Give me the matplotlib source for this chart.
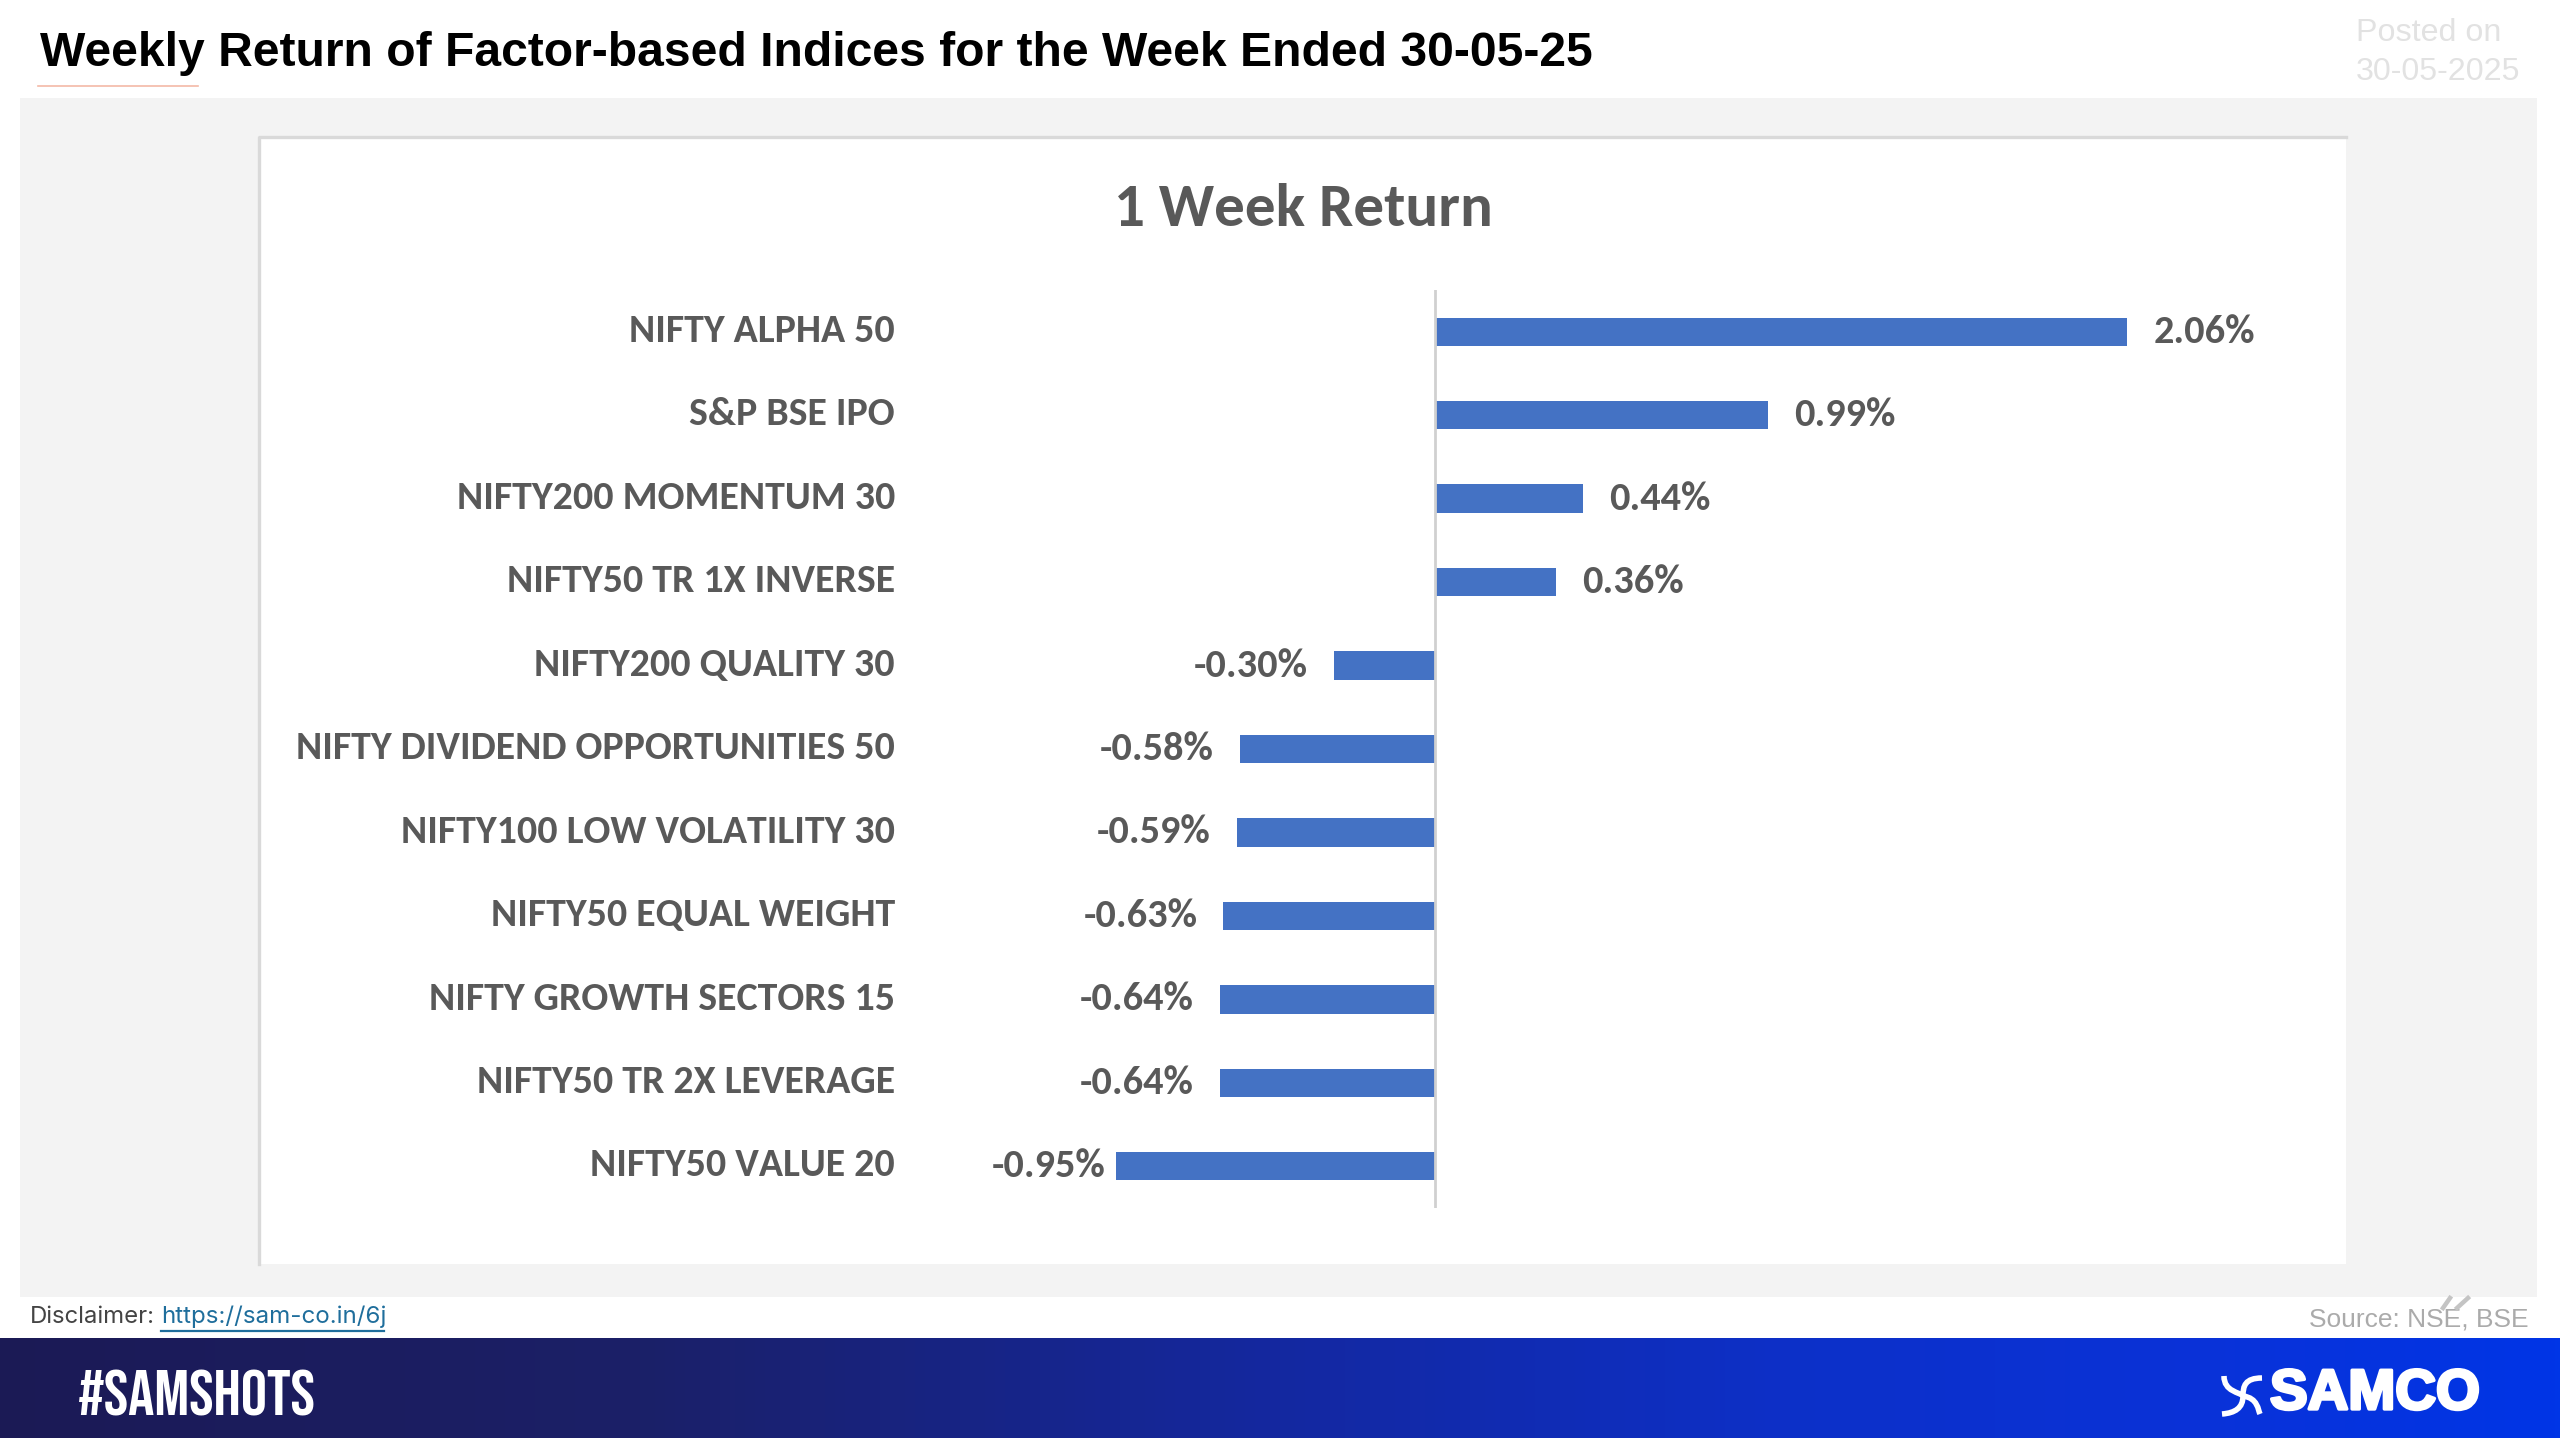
import numpy as np
import matplotlib
matplotlib.use('Agg')
import matplotlib.pyplot as plt
import matplotlib.patheffects as pe
from matplotlib.patches import Rectangle, PathPatch
from matplotlib.path import Path

# chart values, top to bottom
categories = ['NIFTY ALPHA 50', 'S&P BSE IPO', 'NIFTY200 MOMENTUM 30', 'NIFTY50 TR 1X INVERSE',
              'NIFTY200 QUALITY 30', 'NIFTY DIVIDEND OPPORTUNITIES 50', 'NIFTY100 LOW VOLATILITY 30',
              'NIFTY50 EQUAL WEIGHT', 'NIFTY GROWTH SECTORS 15', 'NIFTY50 TR 2X LEVERAGE', 'NIFTY50 VALUE 20']
returns = [2.06, 0.99, 0.44, 0.36, -0.30, -0.58, -0.59, -0.63, -0.64, -0.64, -0.95]

W, H = 2560, 1440
GREY_TEXT = '#595959'
BAR = '#4472C4'
CHART_FONT = ['Carlito', 'Lato', 'DejaVu Sans']
TAG_FONT = ['Bebas Neue', 'Roboto Condensed', 'Liberation Sans']

fig = plt.figure(figsize=(W / 200, H / 200), dpi=200, facecolor='white')

# full page axes in pixel coordinates, y going down
page = fig.add_axes([0, 0, 1, 1])
page.set_xlim(0, W)
page.set_ylim(H, 0)
page.axis('off')

page.add_patch(Rectangle((20, 98), 2517, 1199, fc='#F3F3F3', ec='none', zorder=1))
page.add_patch(Rectangle((258, 136), 2088, 1128, fc='white', ec='none', zorder=2))
page.plot([259, 259, 2346], [1264, 137, 137], color='#D9D9D9', lw=1.2, zorder=3)
page.plot([38, 198], [86, 86], color='#F4B9A7', lw=0.6, zorder=3)

page.text(40, 54, 'Weekly Return of Factor-based Indices for the Week Ended 30-05-25',
          family='Liberation Sans', weight='bold', fontsize=17.3, color='black', va='center', ha='left', zorder=4)
page.text(2356, 33, 'Posted on', family='Liberation Sans', fontsize=11.6, color='#E2E2E2', va='center', zorder=4)
page.text(2356, 72, '30-05-2025', family='Liberation Sans', fontsize=11.6, color='#E2E2E2', va='center', zorder=4)
page.text(1303, 210, '1 Week Return', family=CHART_FONT, weight='bold', fontsize=22, color=GREY_TEXT,
          ha='center', va='center', zorder=4)

# footer
page.text(30, 1317, 'Disclaimer:', family='Inter', fontsize=8.6, color='#444444', va='center', zorder=4)
page.text(161, 1317, 'https://sam-co.in/6j', family='Inter', fontsize=8.7, color='#1F6E9C', va='center', zorder=4)
page.plot([161, 384], [1331, 1331], color='#1F6E9C', lw=0.8, zorder=4)
page.text(2529, 1319, 'Source: NSE, BSE', family='Liberation Sans', fontsize=9.5, color='#ABABAB',
          ha='right', va='center', zorder=4)
page.plot([2443, 2450], [1308, 1298], color='#C4C4C4', lw=1.6, zorder=4)
page.plot([2457, 2468], [1308, 1298], color='#C4C4C4', lw=1.6, zorder=4)

# banner gradient
pos = [0, 0.25, 0.5, 0.7, 0.86, 1]
stops = np.array([[0x1B, 0x1A, 0x55], [0x1B, 0x20, 0x68], [0x14, 0x28, 0xA0],
                  [0x0D, 0x30, 0xC8], [0x0A, 0x32, 0xD8], [0x00, 0x35, 0xE6]]) / 255
xs = np.linspace(0, 1, 512)
grad = np.stack([np.interp(xs, pos, stops[:, c]) for c in range(3)], axis=1)[None, :, :]
page.imshow(grad, extent=(0, W, 1438, 1338), aspect='auto', zorder=3)
page.set_xlim(0, W)
page.set_ylim(H, 0)
page.text(78, 1393, '#SAMSHOTS', family=TAG_FONT, fontsize=23.5, color='white', va='center', zorder=5)
samco = page.text(2270, 1395, 'SAMCO', family='Liberation Sans', weight='bold', fontsize=20.3, color='white',
                  va='center', zorder=5)
samco.set_path_effects([pe.withStroke(linewidth=1.2, foreground='white')])

# logo, two crossing S strokes
curve = [Path.MOVETO, Path.CURVE4, Path.CURVE4, Path.CURVE4, Path.CURVE4, Path.CURVE4, Path.CURVE4]
page.add_patch(PathPatch(Path([(2224, 1376), (2224, 1392), (2240, 1392), (2243, 1396),
                               (2258, 1398), (2258, 1410), (2260, 1414)], curve),
                         fc='none', ec='white', lw=2.0, zorder=5))
page.add_patch(PathPatch(Path([(2262, 1378), (2245, 1378), (2243, 1386), (2243, 1396),
                               (2243, 1408), (2235, 1413), (2222, 1414)], curve),
                         fc='none', ec='white', lw=2.0, zorder=5))

# the bar chart itself
ax = fig.add_axes([0, 1 - 1208 / H, 1, (1208 - 290) / H], zorder=5)
ax.patch.set_alpha(0)
ax.set_xlim(-1435 / 336, (W - 1435) / 336)
y = np.arange(len(categories))
ax.barh(y, returns, height=0.34, color=BAR)
ax.set_ylim(len(categories) - 0.5, -0.5)
for side in ['top', 'right', 'bottom', 'left']:
    ax.spines[side].set_visible(False)
ax.axvline(0, color='#D0D0D0', lw=1.0)
ax.set_xticks([])
ax.set_yticks([])

for i, (name, val) in enumerate(zip(categories, returns)):
    ax.text(-1.607, i - 0.01, name, ha='right', va='center', family=CHART_FONT, weight='bold',
            fontsize=14.35, color=GREY_TEXT)
    label = f'{val:.2f}%'
    if val >= 0:
        ax.annotate(label, (val, i), xytext=(26, 0), textcoords='offset pixels', ha='left', va='center',
                    family=CHART_FONT, weight='bold', fontsize=14.5, color=GREY_TEXT)
    else:
        # the lowest label sits closer to its bar in the original
        gap = 10 if val == min(returns) else 26
        ax.annotate(label, (val, i), xytext=(-gap, 0), textcoords='offset pixels', ha='right', va='center',
                    family=CHART_FONT, weight='bold', fontsize=14.5, color=GREY_TEXT)

fig.savefig('out.png', dpi=200)
